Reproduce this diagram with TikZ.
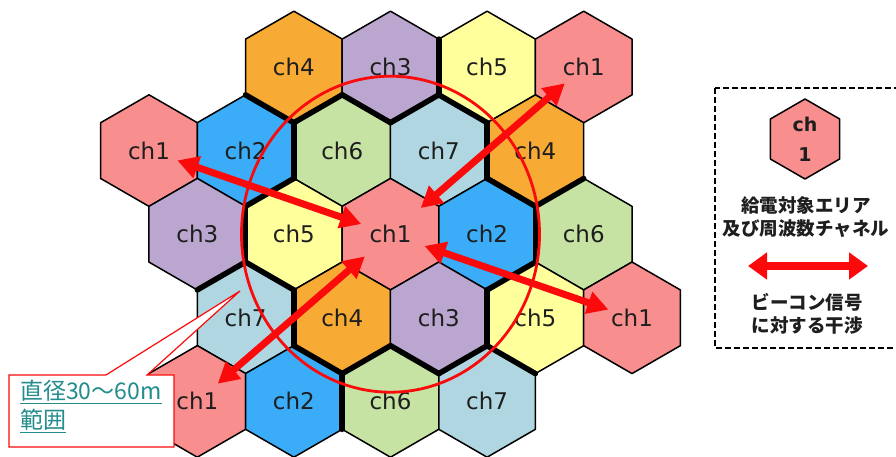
\documentclass[tikz,border=0pt]{standalone}
\usepackage{fontspec}
\setmainfont{DejaVu Sans}
\newfontfamily\jpfont{Noto Sans CJK JP}
\usepackage{xcolor}
\usepackage{tikz}
\usetikzlibrary{arrows.meta}

\definecolor{ch1}{RGB}{249,142,142}
\definecolor{ch2}{RGB}{58,172,248}
\definecolor{ch3}{RGB}{186,166,206}
\definecolor{ch4}{RGB}{247,170,52}
\definecolor{ch5}{RGB}{255,255,155}
\definecolor{ch6}{RGB}{198,227,163}
\definecolor{ch7}{RGB}{176,215,225}
\definecolor{chtext}{RGB}{30,30,30}
\definecolor{beaconred}{RGB}{250,10,10}
\definecolor{noteteal}{RGB}{35,140,140}

\newcommand{\hexr}{55.8}

\tikzset{
  hexcell/.style={draw=black, line width=1.5pt, line join=round},
  clusterline/.style={draw=black, line width=5.5pt, line cap=round},
  chlabel/.style={font=\fontsize{23}{28}\selectfont, text=chtext},
  beacon/.style={draw=beaconred, line width=7pt,
    {Triangle[length=21pt,width=22pt]}-{Triangle[length=21pt,width=22pt]}},
  keybeacon/.style={draw=beaconred, line width=8pt,
    {Triangle[length=19pt,width=26pt]}-{Triangle[length=19pt,width=26pt]}},
  ring/.style={draw=beaconred, line width=2.8pt},
  calloutbox/.style={draw=beaconred, fill=white, line width=1.2pt},
  notetext/.style={font=\jpfont\fontsize{23}{29}\selectfont, text=noteteal, align=left, inner sep=0pt},
  legendbox/.style={draw=black, line width=2pt, dash pattern=on 6pt off 3pt},
  legendch/.style={font=\bfseries\fontsize{19}{30}\selectfont, text=chtext, align=center},
  legendtext/.style={font=\jpfont\bfseries\fontsize{18.5}{23}\selectfont, text=chtext, align=center},
}

\begin{document}
\begin{tikzpicture}[x=1pt, y=1pt]
    \useasboundingbox (0,0) rectangle (896,457);
    \clip (0,0) rectangle (896,457);

    % cells: row / {column index / channel}
    \foreach \row/\cells in {0/{3/4,5/3,7/5,9/1},
                             1/{0/1,2/2,4/6,6/7,8/4},
                             2/{1/3,3/5,5/1,7/2,9/6},
                             3/{2/7,4/4,6/3,8/5,10/1},
                             4/{1/1,3/2,5/6,7/7}} {
      \foreach \k/\ch in \cells {
        \pgfmathsetmacro{\cx}{149+48.3*\k}
        \pgfmathsetmacro{\cy}{390-83.6*\row}
        \draw[hexcell, fill=ch\ch] (\cx,\cy) +(30:\hexr) -- +(90:\hexr) -- +(150:\hexr)
          -- +(210:\hexr) -- +(270:\hexr) -- +(330:\hexr) -- cycle;
        \node[chlabel] (c-\row-\k) at (\cx,\cy) {ch\ch};
      }
    }

    % cluster borders
    \foreach \cell/\ang in {1-4/120,1-4/60,1-4/180,1-6/120,1-6/60,1-6/0,
                            2-7/60,2-7/0,2-7/300,3-6/0,3-6/300,3-6/240,
                            3-4/300,3-4/240,3-4/180,2-3/240,2-3/180,2-3/120,
                            0-3/240,0-5/0,1-8/300,3-8/240,4-5/180,3-2/120}
      \draw[clusterline] (c-\cell.center) +(\ang-30:\hexr) -- +(\ang+30:\hexr);

    \draw[ring] (c-2-5.center) ellipse [x radius=149pt, y radius=158pt];

    % interference
    \draw[beacon, shorten <=31pt, shorten >=30pt] (c-2-5.center) -- (c-1-0.center);
    \draw[beacon, shorten <=40pt, shorten >=25pt] (c-2-5.center) -- (c-0-9.center);
    \draw[beacon, shorten <=36pt, shorten >=25pt] (c-2-5.center) -- (c-3-10.center);
    \draw[beacon, shorten <=34pt, shorten >=27pt] (c-2-5.center) -- (c-4-1.center);

    % callout
    \draw[calloutbox] (9,82) -- (106,82) -- (240,166) -- (147,82) -- (174,82)
      -- (174,10) -- (9,10) -- cycle;
    \node[notetext, anchor=north west] (note) at (20,77)
      {\underline{直径30～60m}\\\underline{範囲}};

    % legend
    \draw[legendbox] (715,369) rectangle (912,109);
    \draw[hexcell, fill=ch1] (805,318) +(30:40) -- +(90:40) -- +(150:40)
      -- +(210:40) -- +(270:40) -- +(330:40) -- cycle;
    \node[legendch] (key) at (805,318) {ch\\1};
    \node[legendtext] (keyarea) at (806,240) {給電対象エリア\\及び周波数チャネル};
    \coordinate (keyleft) at (748,191);
    \coordinate (keyright) at (868,191);
    \draw[keybeacon] (keyleft) -- (keyright);
    \node[legendtext] (keysignal) at (807,143) {ビーコン信号\\に対する干渉};
\end{tikzpicture}
\end{document}
